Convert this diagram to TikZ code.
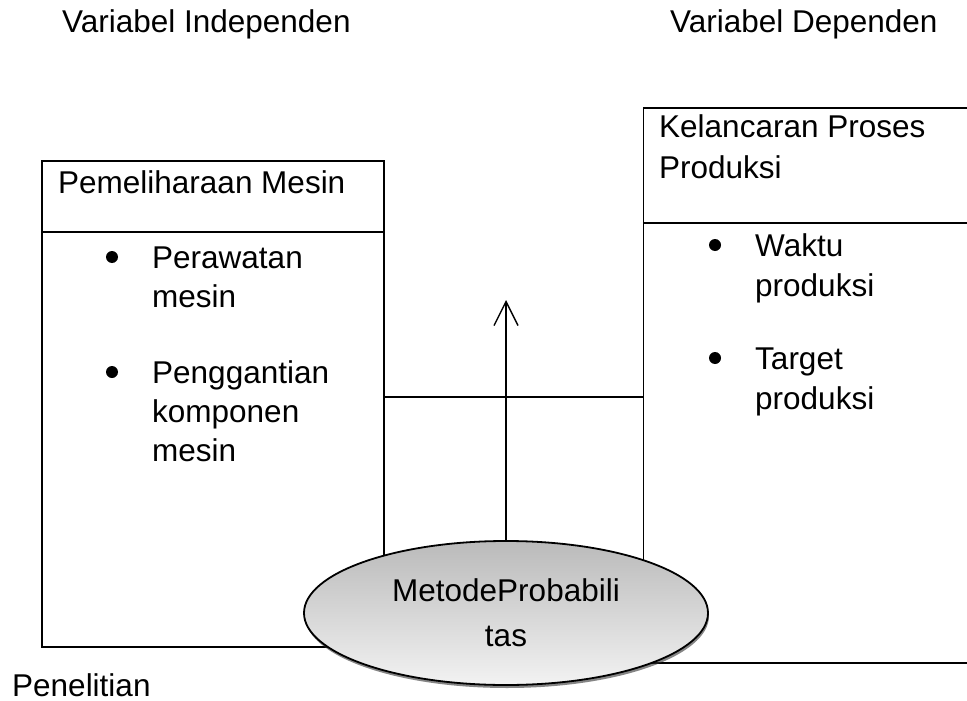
\documentclass[tikz,border=0pt]{standalone}
\usepackage{fontspec}
\setmainfont{Liberation Sans}
\usetikzlibrary{arrows.meta,shapes.geometric,shadows}

\begin{document}
\begin{tikzpicture}[x=1pt, y=-1pt,
  txt/.style={font=\fontsize{31.5}{39}\selectfont, anchor=base west, inner sep=0pt},
  dot/.style={circle, fill, inner sep=0pt, minimum size=12pt},
  box/.style={draw, line width=1.3pt, rectangle, inner sep=0pt}]
  \useasboundingbox (0,0) rectangle (967,701);

  % headings
  \node[txt] (hdrind) at (62,33) {Variabel Independen};
  \node[txt] (hdrdep) at (670,33) {Variabel Dependen};

  % left box
  \node[box, minimum width=342pt, minimum height=486pt] (lbox) at (213,404) {};
  \draw[line width=1.3pt] (lbox.west |- 0,232) -- (lbox.east |- 0,232);
  \node[txt] (lhead) at (58,193) {Pemeliharaan Mesin};
  \node[dot] (ldot1) at (112,257) {};
  \node[txt] (lit1a) at (152,268) {Perawatan};
  \node[txt] (lit1b) at (152,307) {mesin};
  \node[dot] (ldot2) at (112,372) {};
  \node[txt] (lit2a) at (152,383) {Penggantian};
  \node[txt] (lit2b) at (152,422) {komponen};
  \node[txt] (lit2c) at (152,461) {mesin};

  % right box
  \node[box, minimum width=347pt, minimum height=555pt] (rbox) at (817,385.5) {};
  \draw[line width=1.3pt] (rbox.west |- 0,223) -- (rbox.east |- 0,223);
  \node[txt] (rhead1) at (659,137) {Kelancaran Proses};
  \node[txt] (rhead2) at (659,178) {Produksi};
  \node[dot] (rdot1) at (715,245) {};
  \node[txt] (rit1a) at (755,256) {Waktu};
  \node[txt] (rit1b) at (755,296) {produksi};
  \node[dot] (rdot2) at (715,358) {};
  \node[txt] (rit2a) at (755,369) {Target};
  \node[txt] (rit2b) at (755,409) {produksi};

  % link between the boxes
  \coordinate (link) at (500,397);
  \draw[line width=1.3pt] (lbox.east |- link) -- (rbox.west |- link);

  % method
  \node[ellipse, draw, line width=1.8pt, minimum width=404pt, minimum height=144pt, inner sep=0pt,
        top color=black!27, bottom color=black!5,
        drop shadow={shadow xshift=1pt, shadow yshift=-3pt, opacity=0.6, fill=black!80},
        align=center, font=\fontsize{31.5}{45}\selectfont] (metode) at (506,613) {MetodeProbabili\\tas};
  \coordinate (tip) at (506,300);
  \draw[-{Straight Barb[length=24pt, width=24pt]}, line width=1.4pt] (metode) -- (tip);

  \node[txt] (penel) at (12,696) {Penelitian};
\end{tikzpicture}
\end{document}
